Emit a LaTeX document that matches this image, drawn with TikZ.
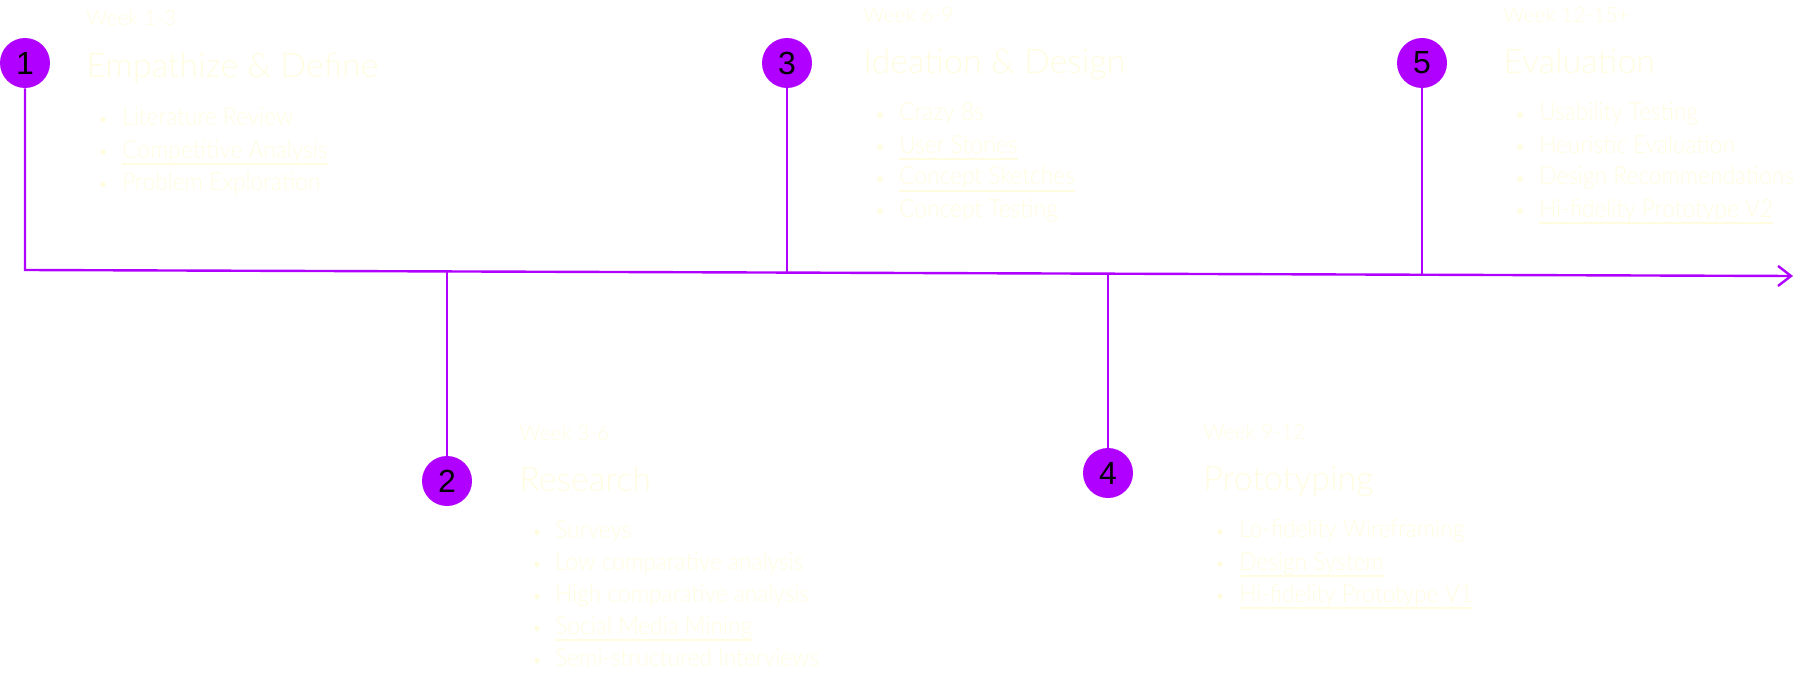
\documentclass[tikz,border=0pt]{standalone}
\usepackage{fontspec}
\setmainfont{Lato}[UprightFont={* Light}]
\newfontfamily\itemfont{Lato}[UprightFont={* Light}, FakeStretch=0.91]
\newfontfamily\numfont{Liberation Sans}
\usetikzlibrary{arrows.meta}
\definecolor{tlpurple}{HTML}{B000FF}
\definecolor{tlcream}{HTML}{FFFCE0}
\begin{document}
\begin{tikzpicture}[x=0.75pt, y=-0.75pt,
	tl/.style={draw=tlpurple, line width=1.8pt},
	phase/.style={circle, fill=tlpurple, minimum size=37.5pt, inner sep=0pt, text=black, font=\numfont\fontsize{24}{24}\selectfont},
	week/.style={anchor=base west, inner sep=0pt, text=tlcream, font=\fontsize{15.75}{16}\selectfont},
	ttl/.style={anchor=base west, inner sep=0pt, text=tlcream, font=\fontsize{25.5}{26}\selectfont},
	itm/.style={anchor=base west, inner sep=0pt, text=tlcream, font=\itemfont\fontsize{18.75}{19}\selectfont},
	uline/.style={draw=tlcream, line width=1.5pt}]
	\useasboundingbox (0, 0) rectangle (1804, 674);
	\node[phase] (n1) at (25, 63) {1};
	\node[phase] (n2) at (447, 481) {2};
	\node[phase] (n3) at (787, 63) {3};
	\node[phase] (n4) at (1108, 473) {4};
	\node[phase] (n5) at (1422, 63) {5};
	\coordinate (j1) at (25, 270);
	\coordinate (j2) at (447, 271.4);
	\coordinate (j3) at (787, 272.6);
	\coordinate (j4) at (1108, 273.7);
	\coordinate (j5) at (1422, 274.7);
	\coordinate (tip) at (1793, 276);
	\draw[tl, -{Straight Barb[length=9.75pt, width=15pt]}] (n1) -- (j1) -- (tip);
	\draw[tl] (j2) -- (n2);
	\draw[tl] (n3) -- (j3);
	\draw[tl] (j4) -- (n4);
	\draw[tl] (n5) -- (j5);

	\node[week] (w1) at (86, 26) {Week 1-3};
	\node[ttl] (t1) at (86, 77.3) {Empathize \& Define};
	\node[itm] (a1) at (122, 125.5) {Literature Review};
	\node[itm] (a2) at (122, 158) {Competitive Analysis};
	\node[itm] (a3) at (122, 190.5) {Problem Exploration};
	\foreach \y in {125.5, 158, 190.5}
		\fill[tlcream] (103, \y-6) circle (2.1pt);
	\draw[uline] ([yshift=-4.3pt]a2.base west) -- ([yshift=-4.3pt]a2.base east);

	\node[week] (w2) at (519, 440.7) {Week 3-6};
	\node[ttl] (t2) at (519, 491.7) {Research};
	\node[itm] (b1) at (555, 538.3) {Surveys};
	\node[itm] (b2) at (555, 570.5) {Low comparative analysis};
	\node[itm] (b3) at (555, 602.7) {High comparative analysis};
	\node[itm] (b4) at (555, 634.5) {Social Media Mining};
	\node[itm] (b5) at (555, 666.7) {Semi-structured Interviews};
	\foreach \y in {538.3, 570.5, 602.7, 634.5, 666.7}
		\fill[tlcream] (537, \y-6) circle (2.1pt);
	\draw[uline] ([yshift=-4.3pt]b4.base west) -- ([yshift=-4.3pt]b4.base east);

	\node[week] (w3) at (863, 22.3) {Week 6-9};
	\node[ttl] (t3) at (863, 73.3) {Ideation \& Design};
	\node[itm] (c1) at (899, 121) {Crazy 8s};
	\node[itm] (c2) at (899, 153) {User Stories};
	\node[itm] (c3) at (899, 185) {Concept Sketches};
	\node[itm] (c4) at (899, 217) {Concept Testing};
	\foreach \y in {121, 153, 185, 217}
		\fill[tlcream] (880, \y-6) circle (2.1pt);
	\draw[uline] ([yshift=-4.3pt]c2.base west) -- ([yshift=-4.3pt]c2.base east);
	\draw[uline] ([yshift=-4.3pt]c3.base west) -- ([yshift=-4.3pt]c3.base east);

	\node[week] (w4) at (1203, 439.3) {Week 9-12};
	\node[ttl] (t4) at (1203, 490.7) {Prototyping};
	\node[itm] (d1) at (1239, 537.7) {Lo-fidelity Wireframing};
	\node[itm] (d2) at (1239, 570) {Design System};
	\node[itm] (d3) at (1239, 602.3) {Hi-fidelity Prototype V1};
	\foreach \y in {537.7, 570, 602.3}
		\fill[tlcream] (1220, \y-6) circle (2.1pt);
	\draw[uline] ([yshift=-4.3pt]d2.base west) -- ([yshift=-4.3pt]d2.base east);
	\draw[uline] ([yshift=-4.3pt]d3.base west) -- ([yshift=-4.3pt]d3.base east);

	\node[week] (w5) at (1503, 22.3) {Week 12-15+};
	\node[ttl] (t5) at (1503, 73.3) {Evaluation};
	\node[itm] (e1) at (1539, 121) {Usability Testing};
	\node[itm] (e2) at (1539, 153) {Heuristic Evaluation};
	\node[itm] (e3) at (1539, 185) {Design Recommendations};
	\node[itm] (e4) at (1539, 217) {Hi-fidelity Prototype V2};
	\foreach \y in {121, 153, 185, 217}
		\fill[tlcream] (1520, \y-6) circle (2.1pt);
	\draw[uline] ([yshift=-4.3pt]e4.base west) -- ([yshift=-4.3pt]e4.base east);
\end{tikzpicture}
\end{document}
